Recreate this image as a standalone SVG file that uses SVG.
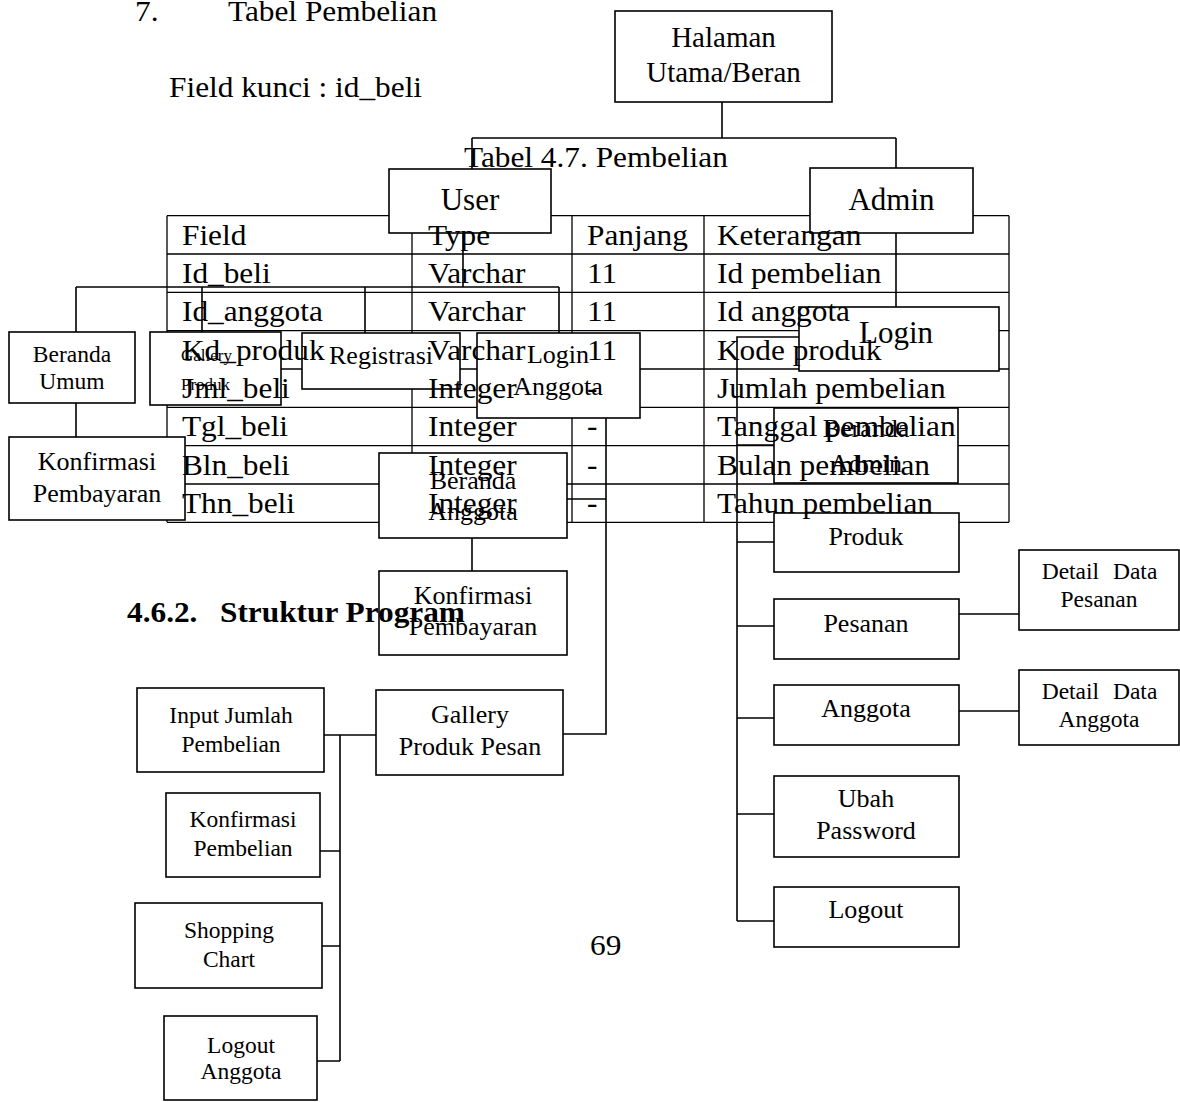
<svg xmlns="http://www.w3.org/2000/svg" width="1180" height="1102" viewBox="0 0 1180 1102">
<style>
text{font-family:"Liberation Serif","Times New Roman",serif;fill:#000}
.box{fill:#fff;stroke:#000;stroke-width:1.6}
.ln{fill:none;stroke:#000;stroke-width:1.6}
.tl{fill:none;stroke:#000;stroke-width:1.3}
.c{text-anchor:middle}
.s17{font-size:17px}.s23{font-size:23.5px}.s26{font-size:26px}.s29{font-size:29px}.s31{font-size:31px}
.doc{font-size:29px}
.b{font-weight:bold}
</style>
<rect width="1180" height="1102" fill="#fff"/>
<g id="table-lines" class="tl">
<path d="M167,215.7H1009M167,254H1009M167,292.3H1009M167,330.6H1009M167,369H1009M167,407.3H1009M167,445.6H1009M167,484H1009M167,522.3H1009"/>
<path d="M167,215.7V522.3M412,215.7V522.3M572,215.7V522.3M704,215.7V522.3M1009,215.7V522.3"/>
</g>
<g id="connectors" class="ln">
<path d="M722,102V138M472,138H896M472,138V169M896,138V168"/>
<path d="M463,233V287M76,287H559M76,287V332M202,287V332M365,287V333M559,287V333"/>
<path d="M76,403V437"/>
<path d="M606,418V734H563M567,499H606"/>
<path d="M472,538V571"/>
<path d="M376,735H324M340,735V1061M320,851H340M322,946H340M317,1061H340"/>
<path d="M896,233V307"/>
<path d="M799,337H737V921M737,445H774M737,542H774M737,626H774M737,718H774M737,814H774M737,921H774"/>
<path d="M959,614H1019M959,711H1019"/>
</g>
<g id="halaman"><rect class="box" x="615" y="11" width="217" height="91"/><text class="c s29" x="723.5" y="47">Halaman</text><text class="c s29" x="723.5" y="82">Utama/Beran</text></g>
<g id="user"><rect class="box" x="389" y="169" width="162" height="64"/><text class="c s31" x="470" y="210">User</text></g>
<g id="admin"><rect class="box" x="810" y="168" width="163" height="65"/><text class="c s31" x="891.5" y="210">Admin</text></g>
<g id="login"><rect class="box" x="799" y="307" width="200" height="64"/><text class="c s31" x="896" y="343">Login</text></g>
<g id="beranda-umum"><rect class="box" x="9" y="332" width="126" height="71"/><text class="c s23" x="72" y="362">Beranda</text><text class="c s23" x="72" y="389">Umum</text></g>
<g id="gallery-produk"><rect class="box" x="150" y="332" width="131" height="73"/><text class="s17" x="181" y="361">Gallery</text><text class="s17" x="181" y="390">Produk</text></g>
<g id="registrasi"><rect class="box" x="302" y="333" width="158" height="56"/><text class="c s26" x="381" y="364">Registrasi</text></g>
<g id="login-anggota"><rect class="box" x="477" y="333" width="163" height="85"/><text class="c s26" x="558" y="363">Login</text><text class="c s26" x="558" y="395">Anggota</text></g>
<g id="konfirmasi-pembayaran-1"><rect class="box" x="9" y="437" width="176" height="83"/><text class="c s26" x="97" y="470">Konfirmasi</text><text class="c s26" x="97" y="502">Pembayaran</text></g>
<g id="beranda-anggota"><rect class="box" x="379" y="453" width="188" height="85"/><text class="c s26" x="473" y="489">Beranda</text><text class="c s26" x="473" y="520">Anggota</text></g>
<g id="konfirmasi-pembayaran-2"><rect class="box" x="379" y="571" width="188" height="84"/><text class="c s26" x="473" y="604">Konfirmasi</text><text class="c s26" x="473" y="635">Pembayaran</text></g>
<g id="gallery-produk-pesan"><rect class="box" x="376" y="690" width="187" height="85"/><text class="c s26" x="470" y="723">Gallery</text><text class="c s26" x="470" y="755">Produk Pesan</text></g>
<g id="input-jumlah"><rect class="box" x="137" y="688" width="187" height="84"/><text class="c s23" x="231" y="723">Input Jumlah</text><text class="c s23" x="231" y="752">Pembelian</text></g>
<g id="konfirmasi-pembelian"><rect class="box" x="166" y="793" width="154" height="84"/><text class="c s23" x="243" y="827">Konfirmasi</text><text class="c s23" x="243" y="856">Pembelian</text></g>
<g id="shopping-chart"><rect class="box" x="135" y="903" width="187" height="85"/><text class="c s23" x="229" y="938">Shopping</text><text class="c s23" x="229" y="967">Chart</text></g>
<g id="logout-anggota"><rect class="box" x="164" y="1016" width="153" height="84"/><text class="c s23" x="241" y="1053">Logout</text><text class="c s23" x="241" y="1079">Anggota</text></g>
<g id="beranda-admin"><rect class="box" x="774" y="408" width="184" height="75"/><text class="c s26" x="866" y="437">Beranda</text><text class="c s26" x="866" y="472">Admin</text></g>
<g id="produk"><rect class="box" x="774" y="513" width="185" height="59"/><text class="c s26" x="866" y="545">Produk</text></g>
<g id="pesanan"><rect class="box" x="774" y="599" width="185" height="60"/><text class="c s26" x="866" y="632">Pesanan</text></g>
<g id="anggota"><rect class="box" x="774" y="685" width="185" height="60"/><text class="c s26" x="866" y="717">Anggota</text></g>
<g id="ubah-password"><rect class="box" x="774" y="776" width="185" height="81"/><text class="c s26" x="866" y="807">Ubah</text><text class="c s26" x="866" y="839">Password</text></g>
<g id="logout"><rect class="box" x="774" y="887" width="185" height="60"/><text class="c s26" x="866" y="918">Logout</text></g>
<g id="detail-pesanan"><rect class="box" x="1019" y="550" width="160" height="80"/><text class="c s23" x="1099.5" y="579" word-spacing="8">Detail Data</text><text class="c s23" x="1099" y="607">Pesanan</text></g>
<g id="detail-anggota"><rect class="box" x="1019" y="670" width="160" height="75"/><text class="c s23" x="1099.5" y="699" word-spacing="8">Detail Data</text><text class="c s23" x="1099" y="727">Anggota</text></g>
<g id="document-text" class="doc" transform="scale(1.08 1)">
<text x="125" y="21">7.</text>
<text x="211.1" y="21">Tabel Pembelian</text>
<text x="156.5" y="97">Field kunci : id_beli</text>
<text x="429.6" y="167">Tabel 4.7. Pembelian</text>
<text x="168.5" y="245">Field</text><text x="396.3" y="245">Type</text><text x="543.5" y="245">Panjang</text><text x="663.9" y="245">Keterangan</text>
<text x="168.5" y="283">Id_beli</text><text x="396.3" y="283">Varchar</text><text x="543.5" y="283">11</text><text x="663.9" y="283">Id pembelian</text>
<text x="168.5" y="321.3">Id_anggota</text><text x="396.3" y="321.3">Varchar</text><text x="543.5" y="321.3">11</text><text x="663.9" y="321.3">Id anggota</text>
<text x="168.5" y="359.6">Kd_produk</text><text x="396.3" y="359.6">Varchar</text><text x="543.5" y="359.6">11</text><text x="663.9" y="359.6">Kode produk</text>
<text x="168.5" y="398">Jml_beli</text><text x="396.3" y="398">Integer</text><text x="543.5" y="398">-</text><text x="663.9" y="398">Jumlah pembelian</text>
<text x="168.5" y="436.3">Tgl_beli</text><text x="396.3" y="436.3">Integer</text><text x="543.5" y="436.3">-</text><text x="663.9" y="436.3">Tanggal pembelian</text>
<text x="168.5" y="474.6">Bln_beli</text><text x="396.3" y="474.6">Integer</text><text x="543.5" y="474.6">-</text><text x="663.9" y="474.6">Bulan pembelian</text>
<text x="168.5" y="513">Thn_beli</text><text x="396.3" y="513">Integer</text><text x="543.5" y="513">-</text><text x="663.9" y="513">Tahun pembelian</text>
<text class="b" x="117.6" y="622">4.6.2.</text>
<text class="b" x="203.7" y="622">Struktur Program</text>
<text x="546.3" y="955">69</text>
</g>
</svg>
